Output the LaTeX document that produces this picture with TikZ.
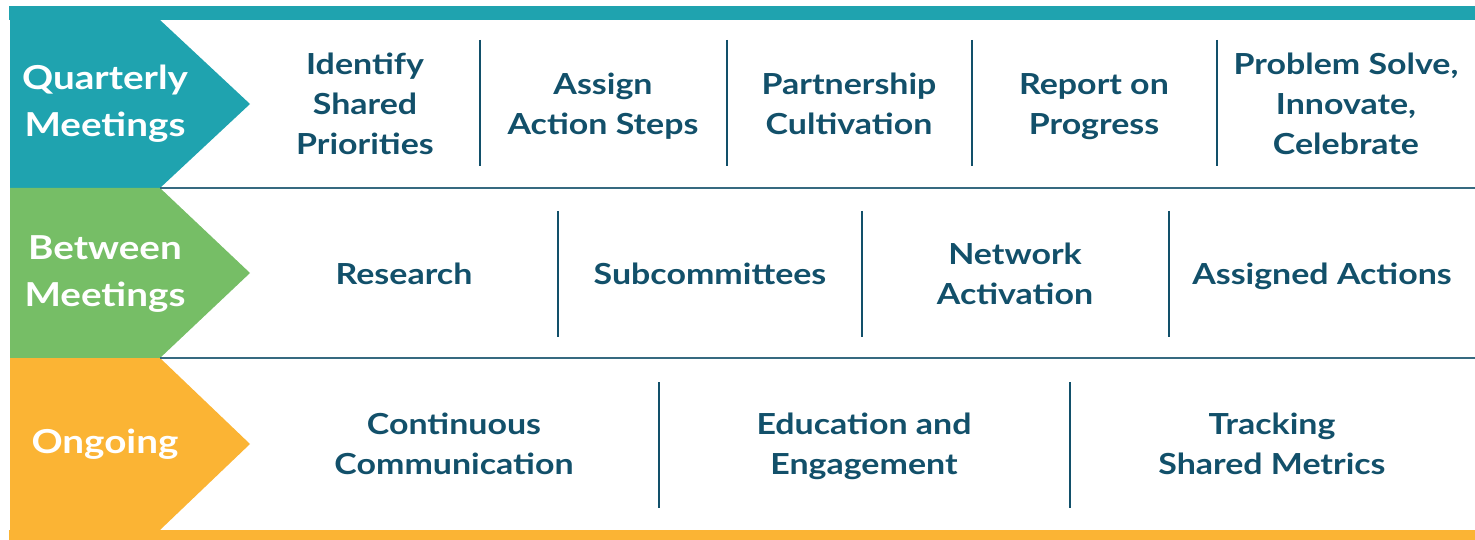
\documentclass[tikz,border=0pt]{standalone}
\usepackage{fontspec}
\setmainfont{Lato}[FakeStretch=1.17]
\usetikzlibrary{positioning}
\definecolor{qteal}{HTML}{1FA3AF}
\definecolor{bgreen}{HTML}{76BE66}
\definecolor{oorange}{HTML}{FBB434}
\definecolor{inkblue}{HTML}{12506A}
\tikzset{
  rowlabel/.style={text=white,font=\fontsize{33}{47}\selectfont\bfseries,align=center,inner sep=0pt},
  item/.style={text=inkblue,font=\fontsize{29}{40}\selectfont\bfseries,align=center,inner sep=0pt,yshift=-2.5pt,
    execute at begin node={\vphantom{Ag}},execute at end node={\vphantom{Ag}}},
  divider/.style={draw=inkblue,line width=2.5pt},
  rowline/.style={draw=inkblue!85,line width=1.5pt}
}

\begin{document}
\begin{tikzpicture}[x=1pt,y=-1pt]
        \useasboundingbox (0,0) rectangle (1475,540);
        % top and bottom bars
        \path[fill=qteal] (9,6) rectangle (1475,20);
        \path[fill=oorange] (9,530) rectangle (1475,540);
        % chevrons
        \path[fill=qteal] (10,20) -- (160,20) -- (250,104) -- (160,188) -- (10,188) -- cycle;
        \path[fill=bgreen] (10,188) -- (160,188) -- (250,273) -- (160,358) -- (10,358) -- cycle;
        \path[fill=oorange] (10,358) -- (160,358) -- (250,444) -- (160,530) -- (10,530) -- cycle;
        \path[rowline] (160,188) -- (1475,188);
        \path[rowline] (160,358) -- (1475,358);
        % dividers
        \foreach \x in {480,727,972,1217} \path[divider] (\x,40) -- (\x,166);
        \foreach \x in {558,862,1169} \path[divider] (\x,211) -- (\x,337);
        \foreach \x in {659,1070} \path[divider] (\x,382) -- (\x,508);
        % row labels
        \node[rowlabel] (qm) at (105,104) {Quarterly\\Meetings};
        \node[rowlabel] (bm) at (105,274) {Between\\Meetings};
        \node[rowlabel] (og) at (105,444) {Ongoing};
        % quarterly
        \node[item] (q1) at (365,104) {Identify\\Shared\\Priorities};
        \node[item] (q2) at (603,104) {Assign\\Action Steps};
        \node[item] (q3) at (849,104) {Partnership\\Cultivation};
        \node[item] (q4) at (1094,104) {Report on\\Progress};
        \node[item] (q5) at (1346,104) {Problem Solve,\\Innovate,\\Celebrate};
        % between
        \node[item] (b1) at (404,274) {Research};
        \node[item] (b2) at (710,274) {Subcommittees};
        \node[item] (b3) at (1015,274) {Network\\Activation};
        \node[item] (b4) at (1322,274) {Assigned Actions};
        % ongoing
        \node[item] (o1) at (454,444) {Continuous\\Communication};
        \node[item] (o2) at (864,444) {Education and\\Engagement};
        \node[item] (o3) at (1272,444) {Tracking\\Shared Metrics};
\end{tikzpicture}
\end{document}
